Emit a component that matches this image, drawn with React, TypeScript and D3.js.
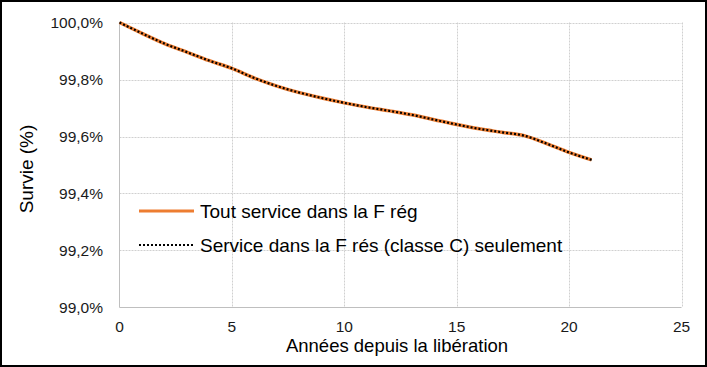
import React, { useRef, useEffect } from 'react';
import * as d3 from 'd3';

const years = [0, 1, 2, 3, 4, 5, 6, 7, 8, 9, 10, 11, 12, 13, 14, 15, 16, 17, 18, 19, 20, 21];
const survieReg = [100.0, 99.962, 99.926, 99.896, 99.866, 99.839, 99.805, 99.777, 99.754, 99.735, 99.718,
  99.703, 99.690, 99.676, 99.659, 99.642, 99.627, 99.615, 99.603, 99.575, 99.544, 99.518];
const survieRes = [100.0, 99.962, 99.926, 99.896, 99.866, 99.839, 99.805, 99.777, 99.754, 99.735, 99.718,
  99.703, 99.690, 99.676, 99.659, 99.642, 99.627, 99.615, 99.603, 99.575, 99.544, 99.518];
const xTicks = [0, 5, 10, 15, 20, 25];
const yTicks = [99.0, 99.2, 99.4, 99.6, 99.8, 100.0];
const seriesNames = ['Tout service dans la F rég', 'Service dans la F rés (classe C) seulement'];

const W = 707;
const H = 367;
const FONT = '"Liberation Sans", Arial, sans-serif';

const App: React.FC = () => {
  const svgRef = useRef<SVGSVGElement>(null);

  useEffect(() => {
    if (!svgRef.current) return;
    document.body.style.margin = '0';
    const svg = d3.select(svgRef.current);
    svg.selectAll('*').remove();

    // fond et cadre
    svg.append('rect').attr('width', W).attr('height', H).attr('fill', '#fff');
    svg.append('rect')
      .attr('x', 1).attr('y', 1).attr('width', W - 2).attr('height', H - 2)
      .attr('fill', 'none').attr('stroke', '#000').attr('stroke-width', 2);

    const x = d3.scaleLinear().domain([0, 25]).range([119.5, 681.5]);
    const y = d3.scaleLinear().domain([99.0, 100.0]).range([307.5, 22.5]);

    // grille
    svg.append('g').selectAll('line')
      .data(yTicks.slice(1))
      .join('line')
      .attr('x1', x(0)).attr('x2', x(25))
      .attr('y1', d => Math.round(y(d)) + 0.5).attr('y2', d => Math.round(y(d)) + 0.5)
      .attr('stroke', '#d0d0d0').attr('stroke-dasharray', '2,1');
    svg.append('g').selectAll('line')
      .data(xTicks.slice(1))
      .join('line')
      .attr('x1', d => Math.round(x(d)) + 0.5).attr('x2', d => Math.round(x(d)) + 0.5)
      .attr('y1', y(100)).attr('y2', y(99))
      .attr('stroke', '#d0d0d0').attr('stroke-dasharray', '2,1');

    // axes
    svg.append('line')
      .attr('x1', x(0)).attr('x2', x(0)).attr('y1', y(100)).attr('y2', y(99))
      .attr('stroke', '#bfbfbf');
    svg.append('line')
      .attr('x1', x(0)).attr('x2', x(25)).attr('y1', y(99)).attr('y2', y(99))
      .attr('stroke', '#bfbfbf');

    const fmt = (v: number) => v.toFixed(1).replace('.', ',') + '%';
    svg.append('g').selectAll('text')
      .data(yTicks)
      .join('text')
      .attr('x', 103).attr('y', d => y(d) + 5.5)
      .attr('text-anchor', 'end')
      .attr('font-family', FONT).attr('font-size', 15.5).attr('fill', '#1a1a1a')
      .text(d => fmt(d));
    svg.append('g').selectAll('text')
      .data(xTicks)
      .join('text')
      .attr('x', d => x(d)).attr('y', 332)
      .attr('text-anchor', 'middle')
      .attr('font-family', FONT).attr('font-size', 15.5).attr('fill', '#1a1a1a')
      .text(d => String(d));

    svg.append('text')
      .attr('x', 397).attr('y', 352)
      .attr('text-anchor', 'middle')
      .attr('font-family', FONT).attr('font-size', 18.5).attr('fill', '#000')
      .text('Années depuis la libération');
    svg.append('text')
      .attr('transform', `translate(33, 169) rotate(-90)`)
      .attr('text-anchor', 'middle')
      .attr('font-family', FONT).attr('font-size', 19).attr('fill', '#000')
      .text('Survie (%)');

    // courbes
    const line = d3.line<number>()
      .x((_, i) => x(years[i]))
      .y(d => y(d))
      .curve(d3.curveMonotoneX);

    svg.append('path')
      .datum(survieReg)
      .attr('fill', 'none').attr('stroke', '#ED7D31').attr('stroke-width', 3.5)
      .attr('d', line);
    svg.append('path')
      .datum(survieRes)
      .attr('fill', 'none').attr('stroke', '#000').attr('stroke-width', 2.2)
      .attr('stroke-dasharray', '2,2')
      .attr('d', line);

    // légende
    const leg = svg.append('g').attr('font-family', FONT).attr('font-size', 19);
    leg.append('line')
      .attr('x1', 139).attr('x2', 194).attr('y1', 211).attr('y2', 211)
      .attr('stroke', '#ED7D31').attr('stroke-width', 3);
    leg.append('text').attr('x', 200).attr('y', 218).attr('fill', '#000').text(seriesNames[0]);
    leg.append('line')
      .attr('x1', 139).attr('x2', 194).attr('y1', 245).attr('y2', 245)
      .attr('stroke', '#000').attr('stroke-width', 2).attr('stroke-dasharray', '2,2');
    leg.append('text').attr('x', 200).attr('y', 252).attr('fill', '#000').text(seriesNames[1]);
  }, []);

  return <svg ref={svgRef} width={W} height={H} style={{ display: 'block' }}></svg>;
};

export default App;
